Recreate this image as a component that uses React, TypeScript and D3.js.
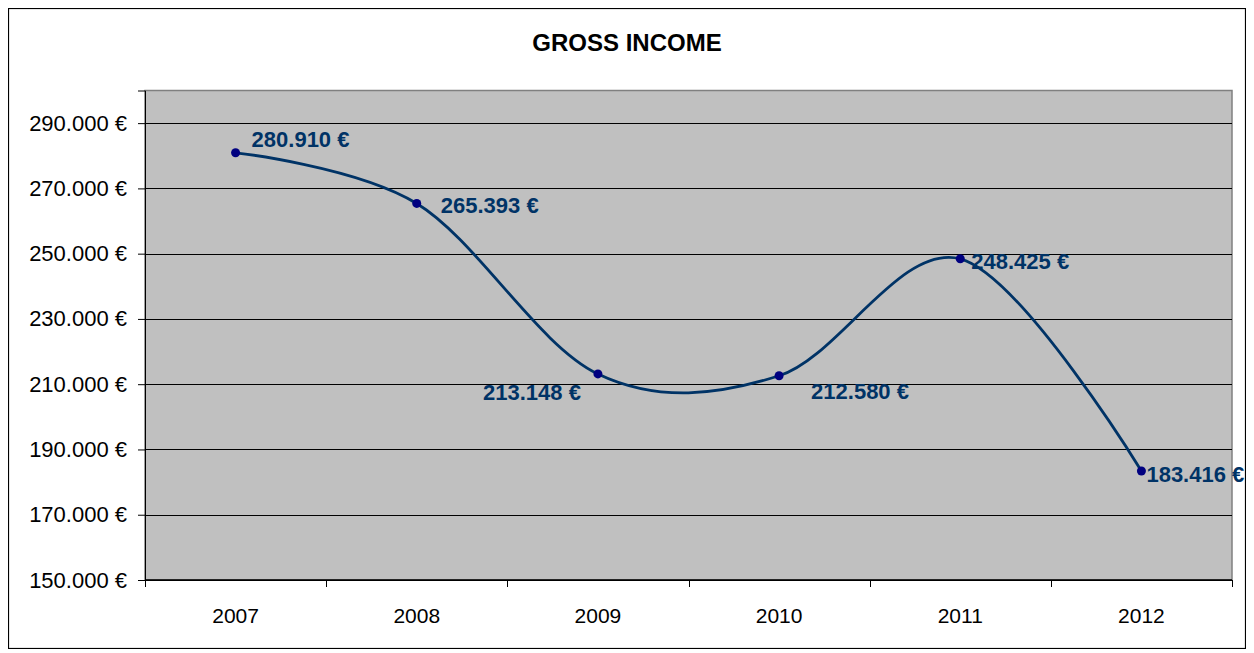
import { useRef, useEffect } from "react";
import * as d3 from "d3";

const years = ["2007", "2008", "2009", "2010", "2011", "2012"];
const income = [280910, 265393, 213148, 212580, 248425, 183416];
const yTicks = [150000, 170000, 190000, 210000, 230000, 250000, 270000, 290000];
const title = "GROSS INCOME";

// label placement per point: [dx, dy, anchor]
const labelOffsets: [number, number, string][] = [
  [16, -14, "start"],
  [24, 2, "start"],
  [-17, 18, "end"],
  [32, 15, "start"],
  [11, 2, "start"],
  [5, 3, "start"],
];

const fmt = (v: number) => d3.format(",")(v).replace(/,/g, ".") + " €";

export default function App() {
  const svgRef = useRef<SVGSVGElement>(null);

  useEffect(() => {
    const svg = svgRef.current;
    if (!svg) return;

    const width = 1238;
    const height = 641;
    const plot = { left: 137, right: 1224, top: 82.5, bottom: 572 };

    const x = d3.scaleBand().domain(years).range([plot.left, plot.right]).padding(0);
    const y = d3.scaleLinear().domain([150000, 300000]).range([plot.bottom, plot.top]);

    const sel = d3.select(svg);
    sel.selectAll("*").remove();
    sel.attr("width", width).attr("height", height).style("display", "block");

    const font = "'Liberation Sans', Arial, sans-serif";

    // outer frame
    sel.append("rect")
      .attr("x", 0.5).attr("y", 0.5)
      .attr("width", width - 1).attr("height", height - 1)
      .attr("fill", "#fff").attr("stroke", "#000").attr("stroke-width", 1.2);

    // title
    sel.append("text")
      .attr("x", width / 2).attr("y", 43)
      .attr("text-anchor", "middle")
      .attr("font-family", font).attr("font-weight", "bold").attr("font-size", 24)
      .text(title);

    // plot area
    sel.append("rect")
      .attr("x", plot.left).attr("y", plot.top)
      .attr("width", plot.right - plot.left).attr("height", plot.bottom - plot.top)
      .attr("fill", "#c0c0c0").attr("stroke", "#808080").attr("stroke-width", 1.5);

    // gridlines
    sel.append("g")
      .selectAll("line")
      .data(yTicks)
      .join("line")
      .attr("x1", plot.left).attr("x2", plot.right)
      .attr("y1", (d) => Math.round(y(d)) + 0.5).attr("y2", (d) => Math.round(y(d)) + 0.5)
      .attr("stroke", "#000").attr("stroke-width", 1);

    // y axis
    const yAxis = sel.append("g").attr("transform", `translate(${plot.left},0)`)
      .call(d3.axisLeft(y).tickValues(yTicks).tickSize(7).tickPadding(11).tickFormat((d) => fmt(d as number)));
    yAxis.select(".domain").attr("stroke", "#000");
    yAxis.selectAll("line").attr("stroke", "#000");
    yAxis.selectAll("text").attr("font-family", font).attr("font-size", 22).attr("fill", "#000");

    // x axis
    const xAxis = sel.append("g").attr("transform", `translate(0,${plot.bottom})`);
    xAxis.append("line")
      .attr("x1", plot.left).attr("x2", plot.right)
      .attr("stroke", "#000").attr("stroke-width", 1.5);
    const bounds = [...years.map((d) => x(d) as number), plot.right];
    xAxis.selectAll("line.tick")
      .data(bounds)
      .join("line")
      .attr("class", "tick")
      .attr("x1", (d) => Math.round(d) + 0.5).attr("x2", (d) => Math.round(d) + 0.5)
      .attr("y1", 0).attr("y2", 7)
      .attr("stroke", "#000");
    xAxis.selectAll("text")
      .data(years)
      .join("text")
      .attr("x", (d) => (x(d) as number) + x.bandwidth() / 2)
      .attr("y", 43)
      .attr("text-anchor", "middle")
      .attr("font-family", font).attr("font-size", 21)
      .text((d) => d);

    const px = (i: number) => (x(years[i]) as number) + x.bandwidth() / 2;

    // line
    const line = d3.line<number>()
      .x((_, i) => px(i))
      .y((d) => y(d))
      .curve(d3.curveCardinal.tension(0));

    sel.append("path")
      .datum(income)
      .attr("fill", "none")
      .attr("stroke", "#003366")
      .attr("stroke-width", 2.8)
      .attr("d", line);

    // markers
    sel.append("g")
      .selectAll("circle")
      .data(income)
      .join("circle")
      .attr("cx", (_, i) => px(i))
      .attr("cy", (d) => y(d))
      .attr("r", 4.5)
      .attr("fill", "#000080");

    // data labels
    sel.append("g")
      .selectAll("text")
      .data(income)
      .join("text")
      .attr("x", (_, i) => px(i) + labelOffsets[i][0])
      .attr("y", (d, i) => y(d) + labelOffsets[i][1])
      .attr("dy", "0.36em")
      .attr("text-anchor", (_, i) => labelOffsets[i][2])
      .attr("font-family", font).attr("font-weight", "bold").attr("font-size", 22)
      .attr("fill", "#003366")
      .text((d) => fmt(d));
  }, []);

  return <svg ref={svgRef} />;
}
